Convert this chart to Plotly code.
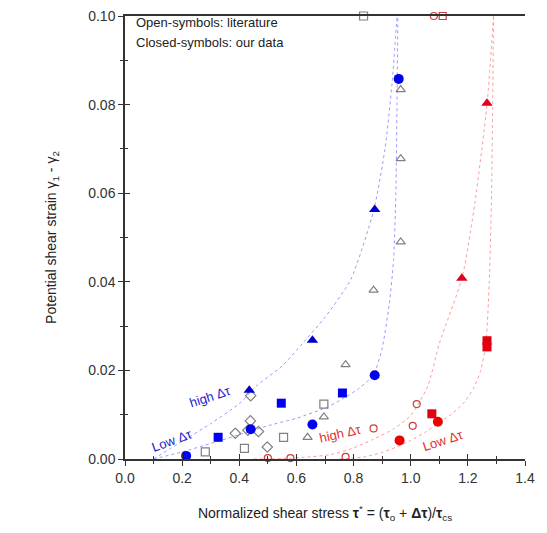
import plotly.graph_objects as go

# ---- closed symbols (our data) ----
blue_circle_x = [0.214, 0.44, 0.656, 0.874, 0.958]
blue_circle_y = [0.0007, 0.0067, 0.0078, 0.0189, 0.0858]
blue_square_x = [0.326, 0.547, 0.761]
blue_square_y = [0.0049, 0.0126, 0.0149]
blue_tri_x = [0.435, 0.656, 0.874]
blue_tri_y = [0.0155, 0.0268, 0.0563]

red_circle_x = [0.961, 1.095]
red_circle_y = [0.0042, 0.0084]
red_square_x = [1.074, 1.267, 1.267]
red_square_y = [0.0102, 0.0253, 0.0267]
red_tri_x = [1.179, 1.267]
red_tri_y = [0.0408, 0.0803]

# ---- open symbols (literature) ----
gray_square_x = [0.281, 0.418, 0.555, 0.696, 0.835]
gray_square_y = [0.0016, 0.0024, 0.0049, 0.0124, 0.100]
gray_tri_x = [0.639, 0.696, 0.772, 0.870, 0.965, 0.965, 0.965]
gray_tri_y = [0.0049, 0.0095, 0.0213, 0.0381, 0.049, 0.0678, 0.0834]
gray_dia_x = [0.386, 0.439, 0.467, 0.498, 0.44, 0.43]
gray_dia_y = [0.0058, 0.0086, 0.0062, 0.0027, 0.0143, 0.0065]
red_open_circle_x = [0.50, 0.579, 0.772, 0.870, 1.007, 1.021, 1.081]
red_open_circle_y = [0.0002, 0.0002, 0.0005, 0.0069, 0.0075, 0.0124, 0.100]
red_open_square_x = [1.112]
red_open_square_y = [0.100]

# ---- fitted curves ----
blue_low_x = [0.10, 0.20, 0.30, 0.40, 0.50, 0.60, 0.70, 0.76, 0.82, 0.87, 0.90, 0.925, 0.94, 0.948, 0.952, 0.955]
blue_low_y = [0.0, 0.0016, 0.0035, 0.0055, 0.0075, 0.0092, 0.0115, 0.0135, 0.016, 0.019, 0.025, 0.035, 0.045, 0.060, 0.080, 0.100]
blue_high_x = [0.10, 0.20, 0.30, 0.40, 0.46, 0.55, 0.62, 0.70, 0.79, 0.87, 0.91, 0.935, 0.952]
blue_high_y = [0.0, 0.004, 0.008, 0.0125, 0.0165, 0.021, 0.026, 0.032, 0.0405, 0.056, 0.070, 0.085, 0.100]
red_high_x = [0.45, 0.55, 0.65, 0.72, 0.80, 0.87, 0.94, 1.00, 1.06, 1.10, 1.18, 1.225, 1.267, 1.29]
red_high_y = [0.0, 0.0001, 0.0005, 0.001, 0.0025, 0.0045, 0.0068, 0.0098, 0.0165, 0.026, 0.041, 0.058, 0.080, 0.100]
red_low_x = [0.75, 0.84, 0.90, 0.95, 1.00, 1.05, 1.10, 1.15, 1.19, 1.22, 1.245, 1.263, 1.275, 1.283, 1.29]
red_low_y = [0.0, 0.0005, 0.0015, 0.0027, 0.0042, 0.006, 0.0082, 0.0105, 0.013, 0.016, 0.020, 0.026, 0.040, 0.060, 0.100]

x_ticks = [0.0, 0.2, 0.4, 0.6, 0.8, 1.0, 1.2, 1.4]
y_ticks = [0.0, 0.02, 0.04, 0.06, 0.08, 0.10]

BLUE = "#0000ee"
RED = "#ee0000"
LBLUE = "#9a9aff"
LRED = "#ff9a9a"
GRAY = "#808080"
ORED = "#c84040"

fig = go.Figure()

def curve(x, y, color):
    fig.add_trace(go.Scatter(x=x, y=y, mode="lines",
                             line=dict(color=color, width=1, dash="dot", shape="spline", smoothing=0.6),
                             hoverinfo="skip", showlegend=False))

curve(blue_low_x, blue_low_y, LBLUE)
curve(blue_high_x, blue_high_y, LBLUE)
curve(red_high_x, red_high_y, LRED)
curve(red_low_x, red_low_y, LRED)

def pts(x, y, symbol, color, size, open_=False):
    if open_:
        m = dict(symbol=symbol + "-open", color=color, size=size, line=dict(width=1.2, color=color))
    else:
        m = dict(symbol=symbol, color=color, size=size, line=dict(width=0))
    fig.add_trace(go.Scatter(x=x, y=y, mode="markers", marker=m, cliponaxis=False, showlegend=False))

pts(gray_square_x, gray_square_y, "square", GRAY, 8, True)
pts(gray_tri_x, gray_tri_y, "triangle-up", GRAY, 8, True)
pts(gray_dia_x, gray_dia_y, "diamond", GRAY, 8, True)
pts(red_open_circle_x, red_open_circle_y, "circle", ORED, 7, True)
pts(red_open_square_x, red_open_square_y, "square", ORED, 7, True)

pts(blue_circle_x, blue_circle_y, "circle", BLUE, 10)
pts(blue_square_x, blue_square_y, "square", BLUE, 9)
pts(blue_tri_x, blue_tri_y, "triangle-up", "#0000cc", 10)
pts(red_circle_x, red_circle_y, "circle", RED, 10)
pts(red_square_x, red_square_y, "square", "#e00010", 9)
pts(red_tri_x, red_tri_y, "triangle-up", "#e00020", 10)

# dummy trace for the inner tick axes
fig.add_trace(go.Scatter(x=[None], y=[None], xaxis="x2", yaxis="y2", showlegend=False))

font = "Liberation Sans, Arial, sans-serif"
fig.update_layout(
    width=547, height=533,
    margin=dict(l=125, r=22, t=8, b=74),
    paper_bgcolor="white", plot_bgcolor="white",
    showlegend=False,
    font=dict(family=font, size=13, color="#222"),
    xaxis=dict(range=[0, 1.4], tickvals=x_ticks, ticktext=[f"{v:.1f}" for v in x_ticks],
               showgrid=False, zeroline=False, showline=True, linecolor="#333", linewidth=1.5,
               mirror=True, ticks="outside", ticklen=5, tickcolor="#333",
               minor=dict(ticks="outside", dtick=0.1, ticklen=3, tickcolor="#333"),
               tickfont=dict(size=14, color="#333"),
               title=dict(text="Normalized shear stress <b>τ</b><sup>*</sup> = (<b>τ</b><sub>o</sub> + <b>Δτ</b>)/<b>τ</b><sub>cs</sub>",
                          font=dict(size=14, color="#222"), standoff=24)),
    yaxis=dict(range=[0, 0.10], tickvals=y_ticks, ticktext=[f"{v:.2f}" for v in y_ticks],
               showgrid=False, zeroline=False, showline=True, linecolor="#333", linewidth=1.5,
               ticks="outside", ticklen=5, tickcolor="#333",
               minor=dict(ticks="outside", dtick=0.01, ticklen=3, tickcolor="#333"),
               tickfont=dict(size=14, color="#333"),
               title=dict(text="Potential shear strain γ<sub>1</sub> - γ<sub>2</sub>",
                          font=dict(size=14, color="#222"), standoff=28)),
    xaxis2=dict(range=[0, 1.4], overlaying="x", side="bottom", tickvals=x_ticks, showticklabels=False,
                showgrid=False, zeroline=False, showline=False, ticks="inside", ticklen=5, tickcolor="#333",
                minor=dict(ticks="inside", dtick=0.1, ticklen=3, tickcolor="#333")),
    yaxis2=dict(range=[0, 0.10], overlaying="y", side="left", tickvals=y_ticks, showticklabels=False,
                showgrid=False, zeroline=False, showline=False, ticks="inside", ticklen=5, tickcolor="#333",
                minor=dict(ticks="inside", dtick=0.01, ticklen=3, tickcolor="#333")),
)

ann = [
    dict(x=0.03, y=0.0986, text="Open-symbols: literature", color="#222", angle=0, size=13, xanchor="left"),
    dict(x=0.03, y=0.0941, text="Closed-symbols: our data", color="#222", angle=0, size=13, xanchor="left"),
    dict(x=0.30, y=0.0140, text="high Δτ", color="#2222cc", angle=-18, size=13, xanchor="center"),
    dict(x=0.165, y=0.0042, text="Low Δτ", color="#2222cc", angle=-20, size=13, xanchor="center"),
    dict(x=0.755, y=0.0058, text="high Δτ", color="#e03030", angle=-13, size=13, xanchor="center"),
    dict(x=1.112, y=0.0042, text="Low Δτ", color="#e03030", angle=-18, size=13, xanchor="center"),
]
for a in ann:
    fig.add_annotation(x=a["x"], y=a["y"], text=a["text"], showarrow=False, textangle=a["angle"],
                       xanchor=a["xanchor"], yanchor="middle",
                       font=dict(family=font, size=a["size"], color=a["color"]))

fig.write_html("out.html")
